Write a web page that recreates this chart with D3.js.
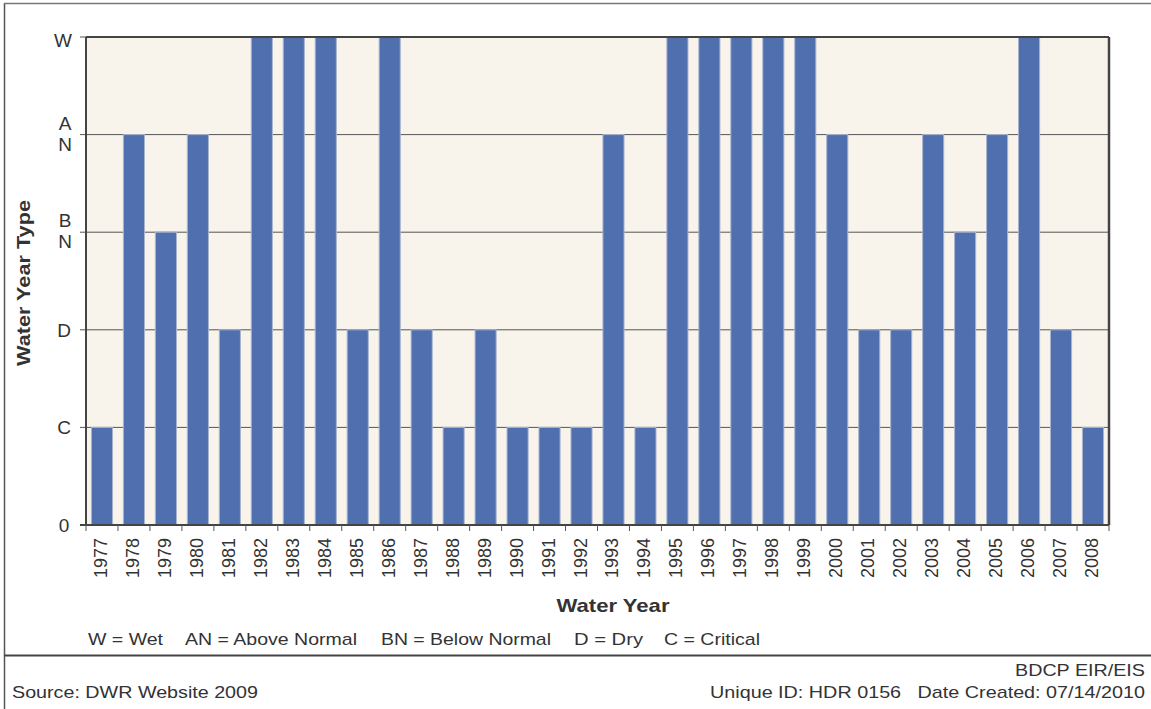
<!DOCTYPE html>
<html><head><meta charset="utf-8">
<script src="https://cdn.jsdelivr.net/npm/d3@7"></script>
<style>body{margin:0;background:#fff;} text{font-family:"Liberation Sans",Arial,sans-serif;}</style>
</head><body><svg id="c" width="1151" height="709"></svg>
<script>
const years = ["1977","1978","1979","1980","1981","1982","1983","1984","1985","1986","1987","1988","1989","1990","1991","1992","1993","1994","1995","1996","1997","1998","1999","2000","2001","2002","2003","2004","2005","2006","2007","2008"];
const types = ["C","AN","BN","AN","D","W","W","W","D","W","D","C","D","C","C","C","AN","C","W","W","W","W","W","AN","D","D","AN","BN","AN","W","D","C"];
const levelCodes = ["0","C","D","BN","AN","W"];
const levelLabels = [["0"],["C"],["D"],["B","N"],["A","N"],["W"]];
const legendItems = ["W = Wet","AN = Above Normal","BN = Below Normal","D = Dry","C = Critical"];

const svg = d3.select("#c");
const m = {l:86, t:37, r:1109, b:525};
const x = d3.scaleBand().domain(years).range([m.l, m.r]).paddingInner(0.34).paddingOuter(0.17);
const y = d3.scaleLinear().domain([0,5]).range([m.b, m.t]);
const val = t => levelCodes.indexOf(t);
const ink = "#333";

// outer frame
svg.append("line").attr("x1",4.5).attr("x2",4.5).attr("y1",3).attr("y2",709).attr("stroke","#555").attr("stroke-width",1.5);
svg.append("line").attr("x1",4).attr("x2",1151).attr("y1",3.5).attr("y2",3.5).attr("stroke","#777").attr("stroke-width",1.5);
svg.append("line").attr("x1",4).attr("x2",1151).attr("y1",655.5).attr("y2",655.5).attr("stroke","#444").attr("stroke-width",2);

// plot bg
svg.append("rect").attr("x",m.l).attr("y",m.t).attr("width",m.r-m.l).attr("height",m.b-m.t).attr("fill","#f8f4ec");

// gridlines + y ticks
const g = svg.append("g");
d3.range(1,5).forEach(v=>{
  g.append("line").attr("x1",m.l-6).attr("x2",m.r).attr("y1",y(v)).attr("y2",y(v)).attr("stroke","#555").attr("stroke-width",1);
});
g.append("line").attr("x1",m.l-6).attr("x2",m.l).attr("y1",y(5)).attr("y2",y(5)).attr("stroke","#555");
g.append("line").attr("x1",m.l-6).attr("x2",m.l).attr("y1",y(0)).attr("y2",y(0)).attr("stroke","#555");

// bars
svg.append("g").selectAll("rect").data(years).join("rect")
  .attr("x",d=>x(d)).attr("width",x.bandwidth())
  .attr("y",(d,i)=>y(val(types[i]))).attr("height",(d,i)=>y(0)-y(val(types[i])))
  .attr("fill","#4f6faf").attr("stroke","#aab4cc").attr("stroke-width",1);

// frame of plot
svg.append("line").attr("x1",m.l).attr("x2",m.r).attr("y1",m.t).attr("y2",m.t).attr("stroke","#444").attr("stroke-width",2);
svg.append("line").attr("x1",m.r).attr("x2",m.r).attr("y1",m.t).attr("y2",m.b).attr("stroke","#444").attr("stroke-width",2.5);
svg.append("line").attr("x1",m.l).attr("x2",m.l).attr("y1",m.t).attr("y2",m.b).attr("stroke","#444").attr("stroke-width",2);
svg.append("line").attr("x1",m.l-6).attr("x2",m.r).attr("y1",m.b).attr("y2",m.b).attr("stroke","#444").attr("stroke-width",2);

// x ticks at band boundaries
const step = x.step();
const bounds = years.map(d => x(d) - x.paddingOuter()*step).concat([m.r]);
svg.append("g").selectAll("line").data(bounds).join("line")
  .attr("x1",d=>d).attr("x2",d=>d).attr("y1",m.b).attr("y2",m.b+6).attr("stroke","#555");

// x labels
svg.append("g").selectAll("text").data(years).join("text")
  .attr("transform",d=>`translate(${x(d)+x.bandwidth()/2+5},${m.b+13}) rotate(-90)`)
  .attr("text-anchor","end").attr("font-size",18).attr("fill",ink).text(d=>d);

// y labels
levelLabels.forEach((lab,v)=>{
  const t = svg.append("text").attr("text-anchor","middle").attr("font-size",19).attr("fill",ink);
  if(lab.length===1){
    t.attr("x",lab[0]==="W"?63:64).attr("y",y(v)+(lab[0]==="W"?10:7)).text(lab[0]);
  } else {
    t.append("tspan").attr("x",65).attr("y",y(v)-5).text(lab[0]);
    t.append("tspan").attr("x",65).attr("y",y(v)+16).text(lab[1]);
  }
});

// axis titles
svg.append("text").attr("transform",`translate(30,283) rotate(-90)`).attr("text-anchor","middle")
  .attr("font-size",19).attr("font-weight","bold").attr("fill",ink)
  .attr("textLength",166).attr("lengthAdjust","spacingAndGlyphs").text("Water Year Type");
svg.append("text").attr("x",613).attr("y",612).attr("text-anchor","middle")
  .attr("font-size",19).attr("font-weight","bold").attr("fill",ink)
  .attr("textLength",113).attr("lengthAdjust","spacingAndGlyphs").text("Water Year");

// legend
const legX = [88,185,381,574,664], legW = [75,172,170,69,96];
svg.append("g").selectAll("text").data(legendItems).join("text")
  .attr("x",(d,i)=>legX[i]).attr("y",645).attr("font-size",17).attr("fill",ink)
  .attr("textLength",(d,i)=>legW[i]).attr("lengthAdjust","spacingAndGlyphs").text(d=>d);

// footer
svg.append("text").attr("x",12).attr("y",698).attr("font-size",17).attr("fill",ink)
  .attr("textLength",246).attr("lengthAdjust","spacingAndGlyphs").text("Source: DWR Website 2009");
svg.append("text").attr("x",1015).attr("y",676).attr("font-size",17).attr("fill",ink)
  .attr("textLength",130).attr("lengthAdjust","spacingAndGlyphs").text("BDCP EIR/EIS");
svg.append("text").attr("x",710).attr("y",698).attr("font-size",17).attr("fill",ink)
  .style("white-space","pre").attr("textLength",435).attr("lengthAdjust","spacingAndGlyphs")
  .text("Unique ID: HDR 0156   Date Created: 07/14/2010");
</script></body></html>
